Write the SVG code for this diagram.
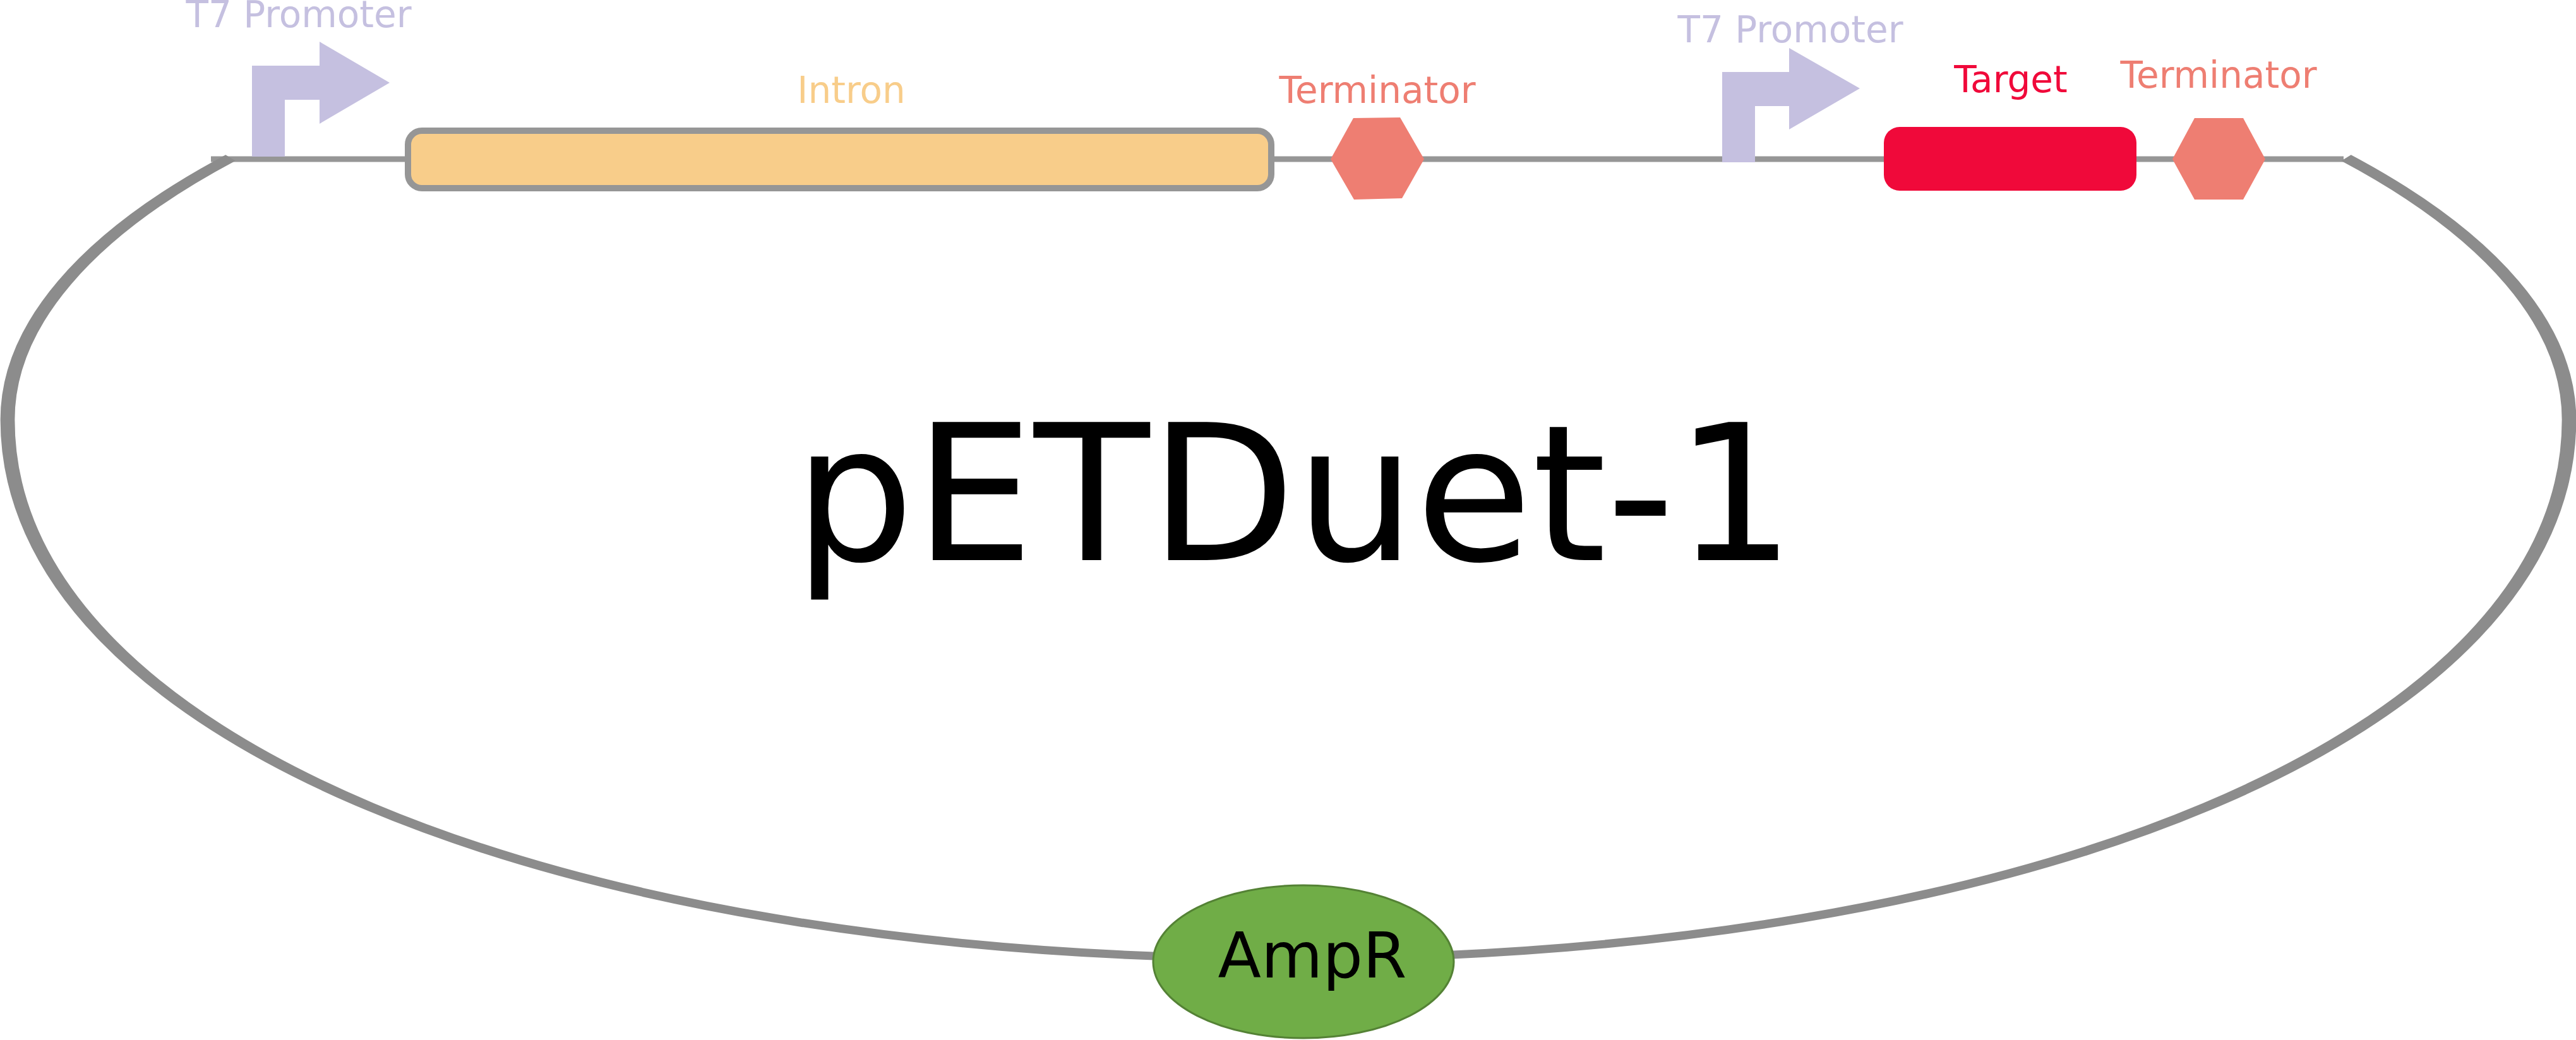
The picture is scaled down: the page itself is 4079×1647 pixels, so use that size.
<svg xmlns="http://www.w3.org/2000/svg" width="4079" height="1647" viewBox="0 0 4079 1647">
<style>
.lbl{font-family:"DejaVu Sans","Verdana",sans-serif;font-size:58px;text-anchor:middle}
.prom{fill:#C5C0E0}
.term{fill:#EE7E72}
</style>
<rect width="4079" height="1647" fill="#FFFFFF"/>
<g id="connectors">
  <line x1="334" y1="252" x2="3711" y2="252" stroke="#969696" stroke-width="9"/>
  <g transform="scale(1.75,1)">
    <path d="M 208.57 250 A 1158.86 735 0 0 0 6.86 665 C 6.86 1160 493.71 1518 1165.71 1518 C 1837.71 1518 2324.57 1160 2324.57 665 A 1158.86 735 0 0 0 2122.86 250" fill="none" stroke="#8C8C8C" stroke-width="13"/>
  </g>
</g>
<g id="t7-promoter-1">
  <path class="prom" d="M399 248 V104 H506 V66 L617 131 L506 196 V158 H451 V248 Z"/>
  <text class="lbl" x="473" y="43" fill="#C5C0E0">T7 Promoter</text>
</g>
<g id="intron">
  <rect x="646" y="207" width="1367" height="91" rx="22" fill="#F8CD8A" stroke="#969696" stroke-width="10"/>
  <text class="lbl" x="1348" y="163" fill="#F8CD8A">Intron</text>
</g>
<g id="terminator-1">
  <polygon class="term" points="2107,252 2143,187 2217,186 2255,252 2220,314 2144,316"/>
  <text class="lbl" x="2181" y="163" fill="#EE7E72">Terminator</text>
</g>
<g id="t7-promoter-2">
  <path class="prom" d="M2727 257 V114 H2833 V76 L2945 140 L2833 205 V168 H2779 V257 Z"/>
  <text class="lbl" x="2835" y="67" fill="#C5C0E0">T7 Promoter</text>
</g>
<g id="target">
  <rect x="2983" y="201" width="400" height="101" rx="25" fill="#F0093A"/>
  <text class="lbl" x="3184" y="146" fill="#F0093A">Target</text>
</g>
<g id="terminator-2">
  <polygon class="term" points="3440,252 3475,187 3552,187 3587,252 3552,316 3475,316"/>
  <text class="lbl" x="3513" y="139" fill="#EE7E72">Terminator</text>
</g>
<g id="plasmid-name">
  <text x="2050" y="887" font-family="DejaVu Sans, Verdana, sans-serif" font-size="300" text-anchor="middle" fill="#000000">pETDuet-1</text>
</g>
<g id="ampr">
  <ellipse cx="2064" cy="1523" rx="238" ry="121" fill="#70AD47" stroke="#548235" stroke-width="3"/>
  <text x="2078" y="1548" font-family="DejaVu Sans, Verdana, sans-serif" font-size="100" text-anchor="middle" fill="#000000">AmpR</text>
</g>
</svg>
